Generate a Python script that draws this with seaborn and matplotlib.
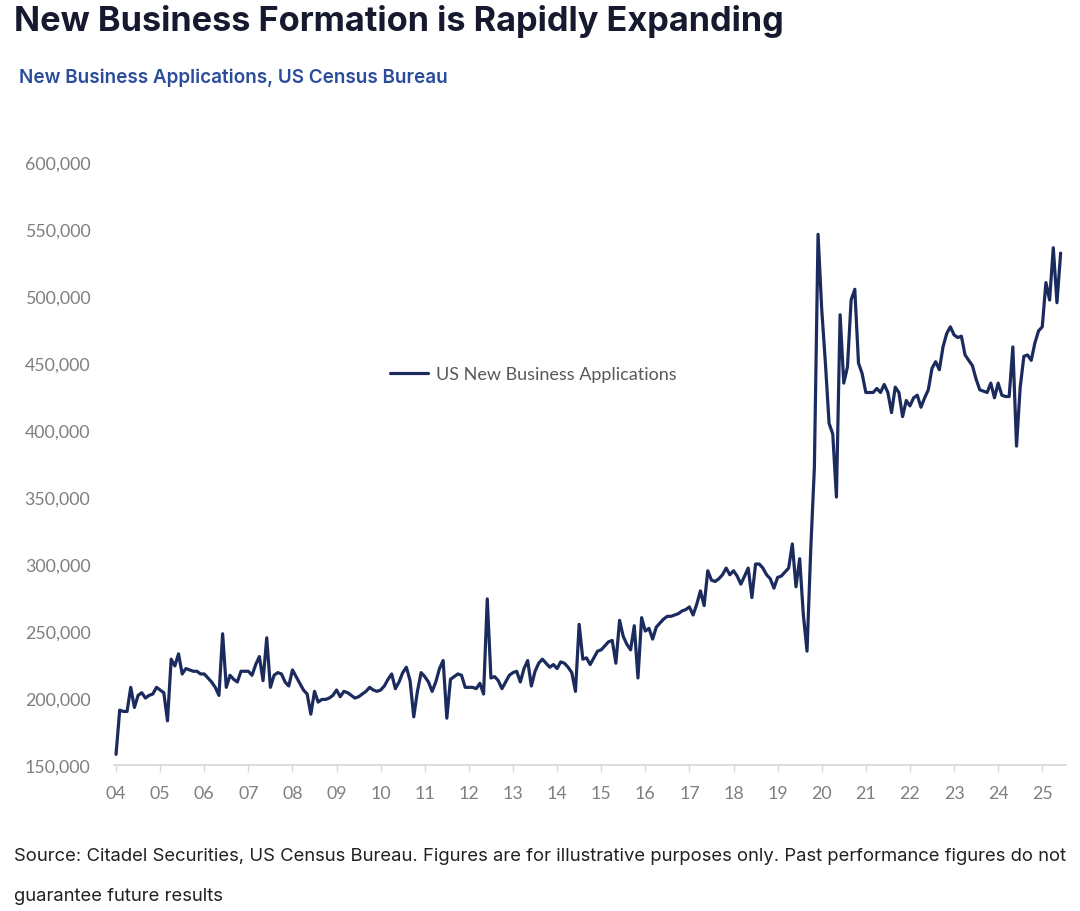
#!/usr/bin/env python3

import numpy as np
import matplotlib as mpl
from matplotlib import pyplot as plt
import seaborn as sns
import pandas as pd

sns.set_style("white")
plt.rcParams['font.family'] = ['Lato', 'DejaVu Sans']

# monthly new business applications (Jan 2004 .. Jun 2025)
apps_2004 = [158000, 191000, 190000, 190000, 208000, 193000, 202000, 204000, 200000, 202000, 203000, 208000]
apps_2005 = [206000, 204000, 183000, 229000, 224000, 233000, 218000, 222000, 221000, 220000, 220000, 218000]
apps_2006 = [218000, 215000, 212000, 208000, 202000, 248000, 208000, 217000, 214000, 212000, 220000, 220000]
apps_2007 = [220000, 217000, 225000, 231000, 213000, 245000, 208000, 217000, 219000, 218000, 212000, 209000]
apps_2008 = [221000, 216000, 211000, 206000, 203000, 188000, 205000, 197000, 199000, 199000, 200000, 202000]
apps_2009 = [206000, 201000, 205000, 204000, 202000, 200000, 201000, 203000, 205000, 208000, 206000, 205000]
apps_2010 = [206000, 209000, 214000, 218000, 207000, 212000, 219000, 223000, 213000, 186000, 205000, 219000]
apps_2011 = [216000, 212000, 205000, 212000, 222000, 228000, 185000, 214000, 216000, 218000, 217000, 208000]
apps_2012 = [208000, 208000, 207000, 211000, 203000, 274000, 215000, 216000, 213000, 207000, 212000, 217000]
apps_2013 = [219000, 220000, 212000, 222000, 228000, 209000, 220000, 226000, 229000, 226000, 223000, 225000]
apps_2014 = [222000, 227000, 226000, 223000, 219000, 205000, 255000, 229000, 230000, 225000, 230000, 235000]
apps_2015 = [236000, 239000, 242000, 243000, 226000, 258000, 246000, 240000, 236000, 254000, 215000, 260000]
apps_2016 = [250000, 252000, 244000, 253000, 256000, 259000, 261000, 261000, 262000, 263000, 265000, 266000]
apps_2017 = [268000, 262000, 270000, 280000, 269000, 295000, 288000, 287000, 289000, 292000, 297000, 292000]
apps_2018 = [295000, 291000, 285000, 291000, 297000, 275000, 300000, 300000, 297000, 292000, 289000, 282000]
apps_2019 = [290000, 291000, 294000, 297000, 315000, 283000, 304000, 262000, 235000, 310000, 372000, 546000]
apps_2020 = [490000, 450000, 405000, 397000, 350000, 486000, 435000, 447000, 497000, 505000, 450000, 442000]
apps_2021 = [428000, 428000, 428000, 431000, 428000, 434000, 428000, 413000, 432000, 428000, 410000, 422000]
apps_2022 = [418000, 424000, 426000, 417000, 424000, 430000, 446000, 451000, 445000, 462000, 472000, 477000]
apps_2023 = [471000, 469000, 470000, 456000, 452000, 448000, 438000, 430000, 429000, 428000, 435000, 424000]
apps_2024 = [435000, 426000, 425000, 425000, 462000, 388000, 432000, 455000, 456000, 452000, 465000, 474000]
apps_2025 = [477000, 510000, 497000, 536000, 495000, 532000]

applications = (apps_2004 + apps_2005 + apps_2006 + apps_2007 + apps_2008 + apps_2009
                + apps_2010 + apps_2011 + apps_2012 + apps_2013 + apps_2014 + apps_2015
                + apps_2016 + apps_2017 + apps_2018 + apps_2019 + apps_2020 + apps_2021
                + apps_2022 + apps_2023 + apps_2024 + apps_2025)

years = list(range(2004, 2026))
year_labels = [f"{y % 100:02d}" for y in years]
y_ticks = [150000, 200000, 250000, 300000, 350000, 400000, 450000, 500000, 550000, 600000]

df = pd.DataFrame({
    'date': 2004 + np.arange(len(applications)) / 12,
    'apps': applications,
})

fig = plt.figure(figsize=(10.8, 9.12), dpi=100)
ax = fig.add_axes([0.1056, 0.160, 0.8815, 0.6613])

g = sns.lineplot(data=df, x='date', y='apps', color='#1c2b5e', linewidth=2.3,
                 label='US New Business Applications', ax=ax)

g.set_xlim(2003.955, 2025.54)
g.set_ylim(150000, 600000)
g.set_xticks(years)
g.set_xticklabels(year_labels)
g.set_yticks(y_ticks)
g.yaxis.set_major_formatter(mpl.ticker.FuncFormatter(lambda v, pos: f"{int(v):,}"))
g.set_xlabel('')
g.set_ylabel('')

for side in ['top', 'right', 'left']:
    g.spines[side].set_visible(False)
g.spines['bottom'].set_color('#d9d9d9')
g.spines['bottom'].set_linewidth(1.3)
g.tick_params(axis='x', colors='#7f7f7f', labelsize=12.8, length=5, width=1,
              color='#d9d9d9', pad=9, direction='out', bottom=True)
g.tick_params(axis='y', colors='#7f7f7f', labelsize=12.8, length=0, pad=17)

g.legend(loc='center left', bbox_to_anchor=(390 / 1080, 1 - 375 / 912),
         bbox_transform=fig.transFigure, frameon=False, fontsize=13,
         handlelength=2.1, handletextpad=0.45, borderpad=0, borderaxespad=0,
         labelcolor='#595959')

fig.text(14 / 1080, 1 - 22 / 912, 'New Business Formation is Rapidly Expanding',
         family=['Inter', 'DejaVu Sans'], fontsize=24.7, fontweight='bold',
         color='#171a2e', ha='left', va='center')
fig.text(19 / 1080, 1 - 78 / 912, 'New Business Applications, US Census Bureau',
         family=['Inter', 'DejaVu Sans'], fontsize=13.6, fontweight='semibold',
         color='#2b4c9b', ha='left', va='center')
fig.text(14 / 1080, 1 - 857 / 912,
         'Source: Citadel Securities, US Census Bureau. Figures are for illustrative purposes only. '
         'Past performance figures do not',
         family=['Inter', 'DejaVu Sans'], fontsize=13.3, color='#222222', ha='left', va='center')
fig.text(14 / 1080, 1 - 897 / 912, 'guarantee future results',
         family=['Inter', 'DejaVu Sans'], fontsize=13.3, color='#222222', ha='left', va='center')

fig.savefig('out.png', dpi=100, facecolor='white')
